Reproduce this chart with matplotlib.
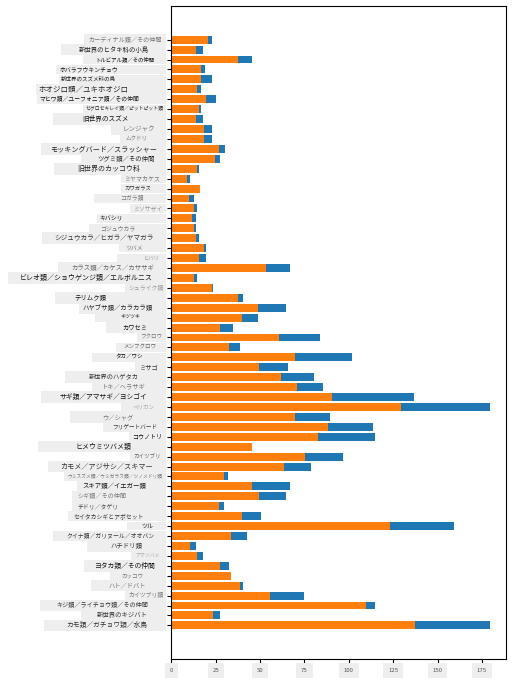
import numpy as np
import matplotlib
matplotlib.use('Agg')
import matplotlib.pyplot as plt
import matplotlib.transforms as mtransforms
from matplotlib.patches import Rectangle

plt.rcParams['font.family'] = ['Noto Sans CJK JP', 'DejaVu Sans']

#------------------------------------------------------------------------------------------
# Data: bird families, shortest (orange) and longest (blue) length per family
#------------------------------------------------------------------------------------------

families = [
    'カーディナル類／その仲間', '新世界のヒタキ科の小鳥', 'トルビアル類／その仲間',
    'ホバラフウキンチョウ', '新世界のスズメ科の鳥', 'ホオジロ類／ユキホオジロ',
    'マヒワ類／ユーフォニア類／その仲間', 'セグロセキレイ類／ピットピット類', '旧世界のスズメ',
    'レンジャク', 'ムクドリ', 'モッキングバード／スラッシャー', 'ツグミ類／その仲間',
    '旧世界のカッコウ科', 'ミヤマカケス', 'カワガラス', 'コガラ類', 'ミソサザイ', 'キバシリ',
    'ゴジュウカラ', 'シジュウカラ／ヒガラ／ヤマガラ', 'ツバメ', 'ヒバリ',
    'カラス類／カケス／カササギ', 'ビレオ類／ショウゲンジ類／エルボルニス', 'シュライク類',
    'テリムク類', 'ハヤブサ類／カラカラ類', 'キツツキ', 'カワセミ', 'フクロウ', 'メンフクロウ',
    'タカ／ワシ', 'ミサゴ', '新世界のハゲタカ', 'トキ／ヘラサギ', 'サギ類／アマサギ／ヨシゴイ',
    'ペリカン', 'ウ／シャグ', 'フリゲートバード', 'コウノトリ', 'ヒメウミツバメ類', 'カイツブリ',
    'カモメ／アジサシ／スキマー', 'ウミスズメ類／ウミガラス類／ツノメドリ類',
    'スキア類／イエガー類', 'シギ類／その仲間', 'チドリ／タゲリ', 'セイタカシギとアボセット',
    'ツル', 'クイナ類／ガリヌール／オオバン', 'ハチドリ類', 'アマツバメ', 'ヨタカ類／その仲間',
    'カッコウ', 'ハト／ドバト', 'カイツブリ類', 'キジ類／ライチョウ類／その仲間',
    '新世界のキジバト', 'カモ類／ガチョウ類／水鳥',
]

min_length = [
    20.9, 13.9, 37.6, 16.5, 16.5, 14.3, 19.5, 15.4, 13.9, 18.4,
    18.4, 26.9, 24.6, 14.5, 8.8, 16.2, 10.0, 12.8, 11.7, 12.8,
    13.9, 18.4, 15.6, 53.4, 12.8, 22.9, 37.6, 48.9, 39.8, 27.4,
    60.7, 32.5, 69.7, 49.4, 61.8, 70.9, 90.6, 129.5, 69.7, 88.3,
    82.7, 45.5, 75.4, 63.5, 29.7, 45.5, 49.4, 26.9, 39.8, 123.3,
    33.6, 10.5, 14.5, 27.4, 33.6, 38.7, 55.6, 109.8, 23.5, 137.4,
]

max_length = [
    22.9, 17.9, 45.5, 19.0, 22.9, 16.7, 25.2, 16.7, 17.9, 22.9,
    22.9, 30.3, 27.4, 15.6, 10.5, 16.2, 12.8, 14.5, 13.9, 13.9,
    15.6, 19.5, 19.5, 66.9, 14.5, 23.5, 40.4, 64.7, 48.9, 34.8,
    83.8, 38.7, 101.9, 65.8, 80.5, 85.5, 136.8, 179.7, 89.5, 113.7,
    114.8, 45.5, 96.8, 78.8, 32.0, 66.9, 64.7, 29.7, 50.6, 159.4,
    42.7, 13.9, 17.9, 32.5, 33.6, 40.4, 74.8, 114.8, 27.4, 179.7,
]

x_ticks = [0, 25, 50, 75, 100, 125, 150, 175]

# label look: font size, colour, grey box reaching left of the text, gap between text and tick (px)
label_size = [4.4, 4.6, 3.9, 4.2, 4.0, 5.4, 4.2, 3.5, 4.8, 4.7,
              4.0, 5.1, 4.6, 5.0, 4.3, 3.9, 4.2, 4.2, 4.2, 4.2,
              4.8, 4.2, 3.8, 4.6, 5.0, 4.2, 4.6, 4.6, 3.6, 4.5,
              4.0, 4.0, 4.0, 4.5, 4.5, 4.5, 4.9, 4.0, 4.5, 4.1,
              4.3, 5.0, 4.0, 5.1, 3.4, 4.6, 4.4, 4.2, 4.2, 4.3,
              4.2, 4.6, 3.5, 4.9, 4.0, 4.5, 4.2, 4.4, 4.6, 4.9]
label_color = ['#777777', '#222222', '#111111', '#111111', '#222222', '#222222', '#111111', '#222222', '#111111', '#777777',
               '#777777', '#222222', '#222222', '#222222', '#777777', '#333333', '#777777', '#999999', '#111111', '#777777',
               '#333333', '#777777', '#999999', '#666666', '#111111', '#999999', '#111111', '#222222', '#111111', '#111111',
               '#777777', '#666666', '#111111', '#333333', '#333333', '#777777', '#111111', '#aaaaaa', '#777777', '#333333',
               '#111111', '#111111', '#666666', '#333333', '#777777', '#111111', '#777777', '#444444', '#333333', '#111111',
               '#333333', '#333333', '#aaaaaa', '#111111', '#777777', '#777777', '#777777', '#333333', '#333333', '#333333']
box_lead = [3, 17, 11, 2, 1, 1, 1, 1, 27, 10, 4, 8, 14, 22, 2, 2, 24, 1, 1, 10,
            10, 5, 25, 12, 10, 2, 18, 2, 24, 15, 2, 6, 22, 2, 22, 8, 17, 10, 31, 8,
            2, 36, 2, 10, 2, 4, 4, 4, 4, 13, 12, 22, 2, 9, 10, 16, 2, 15, 15, 21]
text_gap = [3, 16, 11, 47, 49, 37, 26, 2, 37, 10, 18, 8, 11, 25, 5, 14, 22, 3, 42, 30,
            12, 22, 6, 11, 13, 2, 59, 13, 25, 18, 3, 9, 22, 8, 27, 20, 18, 11, 32, 8,
            3, 34, 4, 13, 3, 19, 39, 47, 21, 12, 11, 23, 6, 10, 22, 19, 2, 17, 17, 18]

fig = plt.figure(figsize=(5.12, 6.83), dpi=100)
ax = fig.add_axes([0.3346, 0.0351, 0.6543, 0.9561])

ys = np.arange(len(families))
ax.barh(ys, max_length, color='#1f77b4', height=0.8)
ax.barh(ys, min_length, color='#ff7f0e', height=0.8)
ax.invert_yaxis()

ax.set_yticks(ys)
ax.set_yticklabels([''] * len(families))
ax.tick_params(axis='y', length=3, width=0.8)
ax.set_xticks(x_ticks)
ax.set_xticklabels([str(t) for t in x_ticks], fontsize=4.3, color='#555555',
                   bbox=dict(boxstyle='square,pad=0.8', fc='#eeeeee', ec='none'))
ax.tick_params(axis='x', length=3, width=0.8)

base = mtransforms.blended_transform_factory(ax.transAxes, ax.transData)
labels = []
for i, name in enumerate(families):
    shift = mtransforms.ScaledTranslation(-(6 + text_gap[i]) / 100, 0, fig.dpi_scale_trans)
    t = ax.text(0, ys[i], name, transform=base + shift, ha='right', va='center',
                fontsize=label_size[i], color=label_color[i], clip_on=False, zorder=5)
    labels.append(t)

# grey boxes behind the labels, ending just before the ticks
fig.canvas.draw()
renderer = fig.canvas.get_renderer()
W, H = fig.bbox.width, fig.bbox.height
box_right = ax.get_window_extent().x0 - 5
for i, t in enumerate(labels):
    ext = t.get_window_extent(renderer)
    x0 = ext.x0 - box_lead[i] - 1.5
    y0 = ext.y0 - 1.8
    h = ext.height + 3.6
    fig.patches.append(Rectangle((x0 / W, y0 / H), (box_right - x0) / W, h / H,
                                 transform=fig.transFigure, facecolor='#eeeeee',
                                 edgecolor='none', zorder=-1))

fig.savefig('out.png', dpi=100)
